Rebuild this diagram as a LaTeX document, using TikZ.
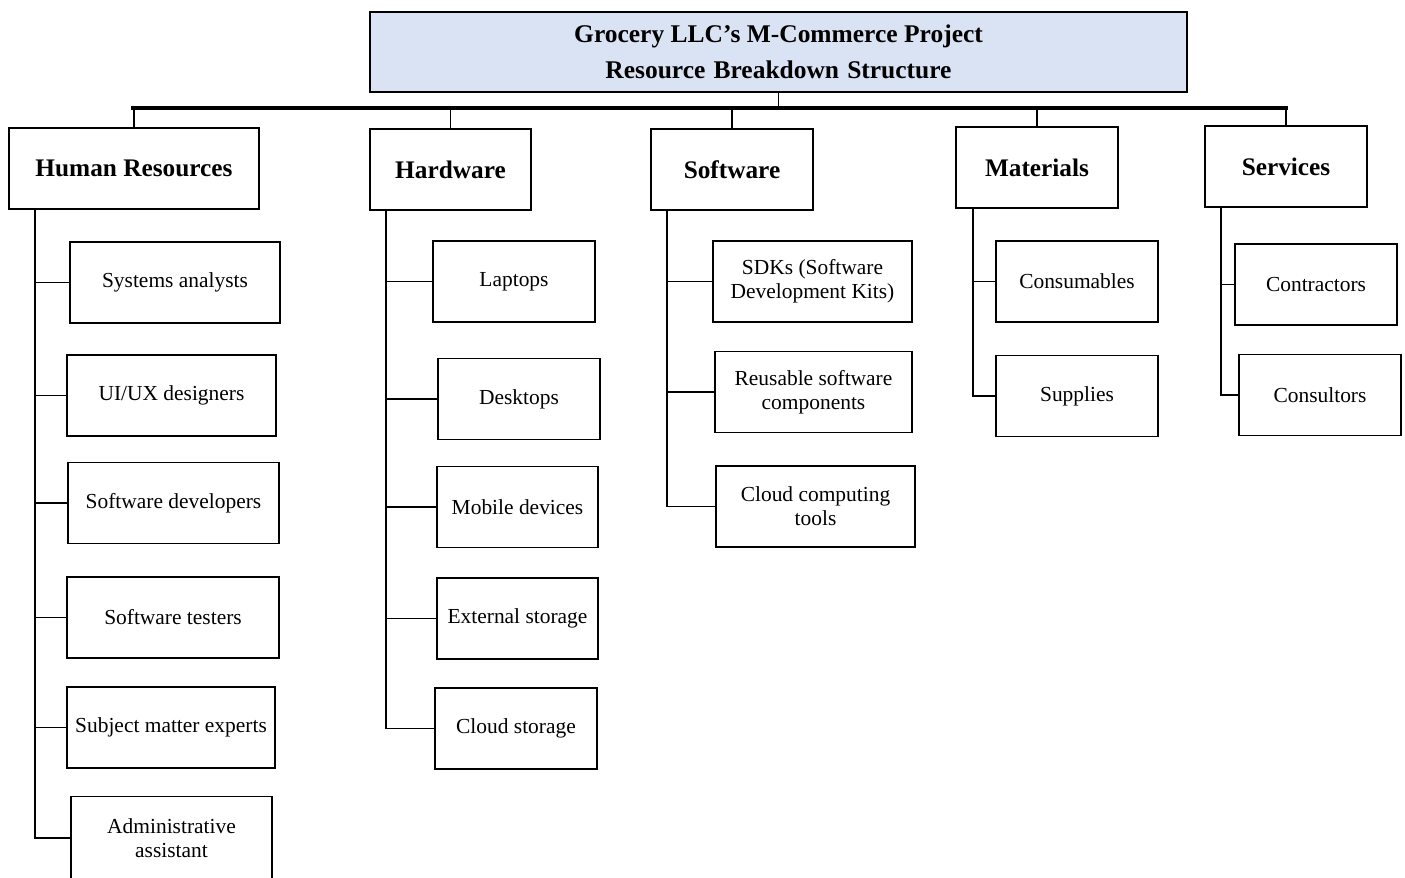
\documentclass[tikz,border=0pt]{standalone}
\usepackage{fontspec}
\setmainfont{Liberation Serif}
\usepackage{xcolor}
\definecolor{titleblue}{HTML}{DAE3F3}

\begin{document}
\begin{tikzpicture}[
    x=0.02cm, y=-0.02cm,
    box/.style={draw, line width=1.1pt, minimum height=1.62cm, inner sep=1pt, align=center},
    cat/.style={box, font=\bfseries\fontsize{14.4}{17}\selectfont},
    item/.style={box, font=\fontsize{12.2}{13.6}\selectfont},
    link/.style={line width=0.95pt},
    bus/.style={line width=2.4pt}
]
    \useasboundingbox (0,0) rectangle (1405,878);

    % Title
    \node[box, fill=titleblue, minimum width=16.34cm, minimum height=1.6cm,
          font=\bfseries\fontsize{14.5}{20.5}\selectfont] (title) at (778.5,52)
        {Grocery LLC's M-Commerce Project\\Resource\hspace{0.32em}Breakdown\hspace{0.32em}Structure};

    % Categories
    \node[cat, minimum width=5.0cm]  (hr)  at (134,168.5)  {Human Resources};
    \node[cat, minimum width=3.22cm] (hw)  at (450.5,169.5) {Hardware};
    \node[cat, minimum width=3.24cm] (sw)  at (732,169.5)  {Software};
    \node[cat, minimum width=3.24cm] (mat) at (1037,167.5) {Materials};
    \node[cat, minimum width=3.24cm] (srv) at (1286,166.5) {Services};

    % Bus
    \coordinate (busL) at (131,108);
    \coordinate (busR) at (1288,108);
    \draw[bus] (busL) -- (busR);
    \draw[link] (title.south) -- (title.south |- busL);
    \foreach \c in {hr,hw,sw,mat,srv}
        \draw[link] (\c.north) -- (\c.north |- busL);

    % Human resources
    \node[item, minimum width=4.2cm]  (hr1) at (175,282.5)   {Systems analysts};
    \node[item, minimum width=4.18cm] (hr2) at (171.5,395.5) {UI/UX designers};
    \node[item, minimum width=4.22cm] (hr3) at (173.5,503)   {Software developers};
    \node[item, minimum width=4.24cm] (hr4) at (173,617.5)   {Software testers};
    \node[item, minimum width=4.16cm] (hr5) at (171,727.5)   {Subject matter experts};
    \node[item, minimum width=4.02cm, minimum height=1.66cm] (hr6) at (171.5,838)
        {Administrative\\assistant};

    % Hardware
    \node[item, minimum width=3.24cm] (hw1) at (514,281.5)   {Laptops};
    \node[item, minimum width=3.24cm] (hw2) at (519,399)     {Desktops};
    \node[item, minimum width=3.22cm] (hw3) at (517.5,507)   {Mobile devices};
    \node[item, minimum width=3.22cm] (hw4) at (517.5,618.5) {External storage};
    \node[item, minimum width=3.24cm] (hw5) at (516,728.5)   {Cloud storage};

    % Software
    \node[item, minimum width=3.98cm] (sw1) at (812.5,281.5) {SDKs (Software\\Development Kits)};
    \node[item, minimum width=3.94cm] (sw2) at (813.5,392)   {Reusable software\\components};
    \node[item, minimum width=3.98cm] (sw3) at (815.5,506.5) {Cloud computing\\tools};

    % Materials
    \node[item, minimum width=3.24cm] (mat1) at (1077,281.5) {Consumables};
    \node[item, minimum width=3.24cm] (mat2) at (1077,396)   {Supplies};

    % Services
    \node[item, minimum width=3.24cm] (srv1) at (1316,284.5) {Contractors};
    \node[item, minimum width=3.24cm] (srv2) at (1320,395)   {Consultors};

    % Trunks
    \coordinate (hrT)  at (35,209.5);
    \coordinate (hwT)  at (386,210.5);
    \coordinate (swT)  at (667,210.5);
    \coordinate (matT) at (973,208.5);
    \coordinate (srvT) at (1221,207.5);

    \foreach \i in {1,...,6} \draw[link] (hrT) |- (hr\i.west);
    \foreach \i in {1,...,5} \draw[link] (hwT) |- (hw\i.west);
    \foreach \i in {1,2,3}   \draw[link] (swT) |- (sw\i.west);
    \foreach \i in {1,2}     \draw[link] (matT) |- (mat\i.west);
    \foreach \i in {1,2}     \draw[link] (srvT) |- (srv\i.west);

\end{tikzpicture}
\end{document}
